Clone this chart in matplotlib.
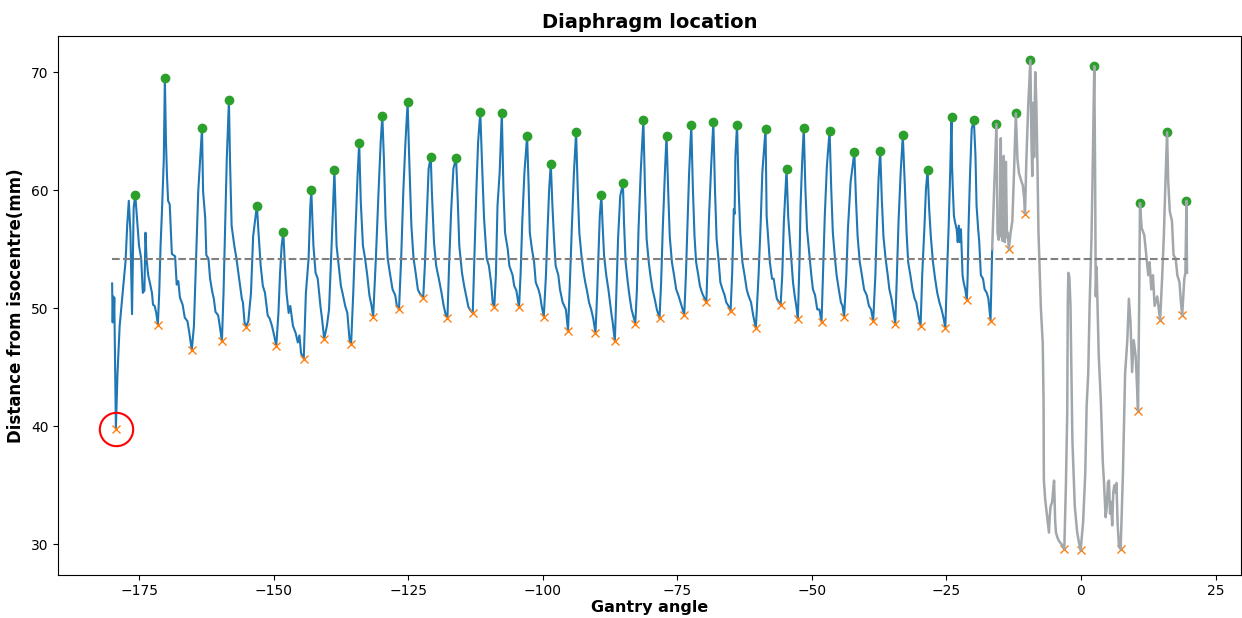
import matplotlib
matplotlib.use("Agg")
import matplotlib.pyplot as plt

# diaphragm trace (blue part), gantry angle vs distance from isocentre
angle = [-180.0, -179.9, -179.8, -179.7, -179.6, -179.45, -179.3,
         -179.0, -178.6, -178.0, -177.5, -177.2, -176.9, -176.6, -176.3, -176.0, -175.7,
         -175.4, -175.0, -174.6, -174.3, -174.0, -173.8, -173.6, -173.3, -173.0, -172.6, -172.4, -172.1, -171.8, -171.5,
         -171.25, -171.0, -170.75, -170.4, -170.2, -170.0, -169.8, -169.6, -169.3, -168.9, -168.3, -168.0, -167.7, -167.4, -166.9, -166.5, -166.0, -165.7, -165.2,
         -164.8, -164.4, -164.0, -163.3, -163.1, -162.7, -162.5, -162.1, -161.8, -161.4, -161.1, -160.8, -160.3, -160.0, -159.6,
         -159.3, -159.0, -158.7, -158.3, -158.1, -157.8, -157.3, -156.9, -156.4, -155.9, -155.7, -155.4, -155.1,
         -154.7, -154.2, -153.8, -153.1, -152.8, -152.4, -152.0, -151.6, -151.1, -150.7, -150.3, -149.9, -149.5,
         -149.1, -148.8, -148.5, -148.2, -147.9, -147.6, -147.2, -146.9, -146.4, -145.9, -145.5, -145.2, -144.9, -144.4,
         -144.0, -143.5, -143.2, -143.0, -142.6, -142.2, -141.8, -141.3, -141.0, -140.6,
         -140.1, -139.7, -139.2, -138.7, -138.3, -137.9, -137.5, -137.2, -136.7, -136.3, -135.9, -135.6,
         -135.2, -134.8, -134.4, -134.1, -133.8, -133.4, -133.0, -132.6, -132.2, -131.8, -131.5,
         -131.0, -130.5, -130.1, -129.8, -129.5, -129.2, -128.8, -128.4, -127.9, -127.4, -127.1, -126.7,
         -126.3, -125.9, -125.5, -125.1, -124.8, -124.4, -124.0, -123.7, -123.2, -122.9, -122.6, -122.2,
         -121.9, -121.5, -121.2, -120.8, -120.6, -120.2, -119.8, -119.3, -118.8, -118.4, -118.0, -117.7,
         -117.4, -117.0, -116.6, -116.1, -115.8, -115.5, -115.0, -114.6, -114.1, -113.8, -113.4, -113.0,
         -112.7, -112.3, -112.0, -111.6, -111.3, -110.9, -110.4, -110.0, -109.6, -109.3, -109.0,
         -108.7, -108.4, -108.0, -107.6, -107.3, -107.0, -106.5, -106.2, -105.9, -105.6, -105.3, -104.9, -104.4,
         -104.1, -103.8, -103.4, -102.9, -102.6, -102.4, -102.0, -101.6, -101.3, -100.8, -100.5, -100.2, -99.8,
         -99.4, -99.1, -98.8, -98.5, -98.2, -97.9, -97.6, -97.1, -96.8, -96.3, -96.0, -95.7, -95.3,
         -95.0, -94.6, -94.2, -93.8, -93.5, -93.2, -92.8, -92.4, -92.1, -91.7, -91.4, -91.0, -90.6, -90.2,
         -89.9, -89.6, -89.4, -89.1, -88.9, -88.6, -88.2, -87.8, -87.5, -87.2, -87.0, -86.6,
         -86.3, -86.0, -85.6, -85.1, -84.9, -84.6, -84.2, -83.9, -83.5, -83.2, -82.8,
         -82.5, -82.2, -81.8, -81.3, -81.0, -80.7, -80.3, -80.0, -79.6, -79.2, -78.8, -78.3,
         -78.0, -77.7, -77.3, -77.0, -76.7, -76.4, -76.0, -75.6, -75.2, -74.8, -74.4, -74.0, -73.7,
         -73.4, -73.1, -72.8, -72.4, -72.1, -71.8, -71.5, -71.1, -70.8, -70.4, -70.0, -69.6,
         -69.4, -69.1, -68.7, -68.3, -68.0, -67.7, -67.3, -67.0, -66.6, -66.2, -65.9, -65.5, -65.1,
         -64.8, -64.5, -64.35, -64.2, -63.9, -63.6, -63.3, -62.9, -62.5, -62.1, -61.8, -61.3, -60.9, -60.4,
         -59.9, -59.5, -59.2, -58.6, -58.4, -58.1, -57.8, -57.4, -57.1, -56.8, -56.5, -56.1, -55.8,
         -55.5, -55.2, -54.9, -54.7, -54.4, -54.1, -53.8, -53.5, -53.2, -52.9, -52.6,
         -52.3, -52.1, -51.8, -51.5, -51.2, -50.9, -50.5, -50.1, -49.8, -49.4, -49.0, -48.6, -48.2,
         -47.9, -47.6, -47.2, -46.7, -46.4, -46.1, -45.7, -45.4, -45.0, -44.6, -44.3, -44.0,
         -43.6, -43.3, -42.8, -42.1, -41.8, -41.5, -41.1, -40.7, -40.3, -39.8, -39.4, -39.0, -38.6,
         -38.2, -37.9, -37.6, -37.3, -37.0, -36.7, -36.3, -35.9, -35.6, -35.2, -34.9, -34.5,
         -34.2, -33.9, -33.5, -33.1, -32.7, -32.4, -32.1, -31.7, -31.3, -30.9, -30.6, -30.2, -29.8,
         -29.5, -29.1, -28.8, -28.5, -28.2, -27.9, -27.5, -27.1, -26.7, -26.3, -25.9, -25.5, -25.2,
         -24.9, -24.6, -24.3, -24.05, -23.95, -23.8, -23.6, -23.4, -23.1, -22.9, -22.7, -22.5, -22.3, -22.0, -21.8, -21.5, -21.2,
         -21.05, -20.9, -20.6, -20.3, -19.9, -19.6, -19.4, -19.1, -18.9, -18.6, -18.2, -17.9, -17.5, -17.2, -16.8, -16.5]
distance = [52.1, 48.8, 51.0, 49.2, 50.9, 45.5, 39.8,
            44.5, 48.5, 51.5, 54.0, 57.0, 59.1, 56.5, 49.5, 58.5, 59.6,
            57.8, 55.3, 54.2, 51.3, 51.5, 56.4, 54.2, 52.8, 52.2, 51.3, 50.3, 50.2, 49.6, 48.6,
            51.3, 55.3, 58.1, 62.6, 69.5, 64.2, 61.1, 59.1, 58.8, 54.6, 54.4, 52.0, 52.3, 50.9, 50.3, 49.2, 48.9, 48.05, 46.45,
            48.5, 54.2, 59.9, 65.25, 59.9, 57.6, 54.5, 54.2, 52.5, 51.4, 50.8, 49.7, 49.4, 48.5, 47.2,
            51.3, 57.0, 62.6, 67.6, 62.6, 57.0, 55.3, 54.2, 52.5, 50.8, 50.5, 48.8, 48.45,
            48.9, 51.3, 56.1, 58.7, 56.4, 53.6, 51.9, 51.3, 49.4, 49.1, 48.5, 47.7, 46.8,
            49.6, 53.0, 55.3, 56.5, 53.6, 51.3, 49.6, 50.2, 48.5, 47.9, 47.1, 47.7, 46.2, 45.7,
            51.3, 54.2, 58.4, 60.0, 55.3, 53.0, 52.5, 50.2, 49.1, 47.4,
            48.5, 49.9, 55.6, 61.7, 55.3, 53.6, 51.9, 51.3, 50.2, 49.6, 47.4, 46.95,
            51.3, 56.4, 61.2, 64.0, 59.0, 55.3, 54.2, 52.8, 51.1, 50.2, 49.3,
            54.2, 59.9, 64.1, 66.3, 62.6, 57.6, 54.2, 53.0, 51.6, 51.1, 50.2, 49.9,
            54.2, 59.9, 64.1, 67.45, 62.6, 57.0, 54.2, 53.3, 51.6, 51.3, 51.1, 50.9,
            53.6, 58.4, 61.8, 62.85, 59.9, 55.6, 53.6, 52.5, 51.3, 50.2, 49.4, 49.2,
            53.6, 58.4, 61.8, 62.76, 59.3, 55.3, 53.0, 51.9, 50.8, 50.1, 49.8, 49.6,
            54.2, 60.4, 64.1, 66.6, 62.6, 57.6, 54.2, 53.6, 52.2, 50.5, 50.1,
            52.8, 58.7, 61.5, 66.55, 60.1, 56.4, 55.0, 53.6, 53.2, 52.8, 51.9, 51.5, 50.07,
            53.0, 57.3, 61.5, 64.6, 60.1, 56.4, 55.0, 53.9, 52.2, 51.6, 51.1, 50.2, 49.3,
            52.8, 56.7, 60.1, 62.25, 58.7, 55.9, 53.6, 52.8, 51.6, 50.5, 50.2, 49.9, 48.1,
            51.6, 56.7, 61.5, 64.9, 60.1, 56.4, 54.45, 53.0, 52.2, 51.3, 50.5, 49.9, 49.1, 47.9,
            51.1, 55.0, 57.8, 59.6, 57.3, 54.45, 52.8, 51.6, 50.5, 49.4, 48.8, 47.2,
            51.6, 55.9, 59.5, 60.6, 57.3, 53.9, 52.2, 51.1, 49.9, 49.4, 48.7,
            51.6, 56.7, 61.5, 65.95, 60.1, 55.9, 53.9, 52.8, 51.6, 50.8, 49.9, 49.15,
            52.2, 56.7, 61.5, 64.6, 60.1, 56.1, 53.9, 52.8, 51.6, 51.1, 50.5, 49.9, 49.45,
            52.8, 57.3, 61.5, 65.5, 60.1, 56.1, 53.9, 52.8, 51.9, 51.3, 50.9, 50.5,
            53.3, 57.8, 62.1, 65.8, 60.1, 55.9, 53.9, 52.2, 51.6, 51.1, 50.5, 50.2, 49.75,
            53.0, 58.4, 58.0, 62.9, 65.55, 60.1, 56.4, 53.9, 52.8, 51.6, 51.1, 50.5, 49.4, 48.3,
            52.8, 57.3, 61.5, 65.2, 57.8, 55.9, 53.9, 52.5, 52.5, 51.6, 50.8, 50.5, 50.3,
            52.8, 57.3, 60.1, 61.8, 57.8, 55.9, 53.9, 52.2, 51.1, 50.2, 49.1,
            53.9, 58.7, 62.4, 65.3, 60.1, 56.7, 54.7, 52.8, 51.6, 51.1, 49.9, 49.9, 48.85,
            53.3, 57.8, 62.1, 65.05, 60.1, 56.4, 54.2, 52.8, 51.6, 50.5, 50.2, 49.25,
            52.8, 56.7, 60.7, 63.2, 59.2, 56.1, 53.9, 52.8, 51.6, 51.1, 50.2, 49.9, 48.9,
            52.8, 57.3, 61.0, 63.35, 59.2, 56.1, 54.2, 52.8, 51.6, 50.8, 49.9, 48.7,
            52.8, 57.3, 61.5, 64.65, 60.1, 56.4, 53.9, 52.8, 51.6, 50.8, 50.5, 49.4, 48.5,
            52.8, 56.7, 60.1, 61.7, 58.4, 56.1, 53.9, 52.5, 51.3, 50.5, 49.9, 49.1, 48.3,
            52.8, 56.7, 61.5, 66.2, 62.1, 60.0, 57.8, 57.3, 56.7, 55.6, 57.0, 55.6, 56.7, 52.8, 52.2, 51.6, 50.7,
            52.8, 56.7, 61.5, 65.2, 65.95, 62.9, 58.7, 56.7, 55.6, 52.8, 52.5, 51.6, 51.3, 50.8, 48.95, 55.0]

# part of the trace drawn in grey (irregular breathing)
angle_grey = [-16.5, -16.1, -15.7, -15.5, -15.3, -15.1, -14.9, -14.75, -14.55, -14.35, -14.15, -13.95, -13.75, -13.6, -13.4,
              -13.1, -12.75, -12.45, -12.1, -11.8, -11.5, -11.1, -10.8, -10.55, -10.4,
              -10.15, -9.8, -9.4, -9.2, -9.05, -8.9, -8.7, -8.5, -8.3, -8.1, -7.9, -7.65, -7.45, -7.1, -6.95, -6.9,
              -6.65, -6.25, -5.95, -5.8, -5.65, -5.35, -5.0, -4.8, -4.65, -4.4, -4.1, -3.6, -3.1,
              -2.8, -2.55, -2.45, -2.35, -2.15, -1.95, -1.75, -1.6, -1.15, -0.7, -0.35, -0.06,
              0.4, 0.8, 1.05, 1.35, 1.6, 1.95, 2.2, 2.47, 2.62, 2.75, 2.9, 3.05, 3.3, 3.7, 4.05, 4.27, 4.58,
              4.8, 5.0, 5.2, 5.4, 5.6, 5.8, 6.0, 6.2, 6.4, 6.6, 6.8, 7.06, 7.37,
              7.8, 8.2, 8.6, 8.9, 9.2, 9.5, 9.8, 10.15, 10.3, 10.6,
              10.8, 10.96, 11.27, 11.76, 12.13, 12.5, 12.75, 13.06, 13.37, 13.68, 14.17, 14.7,
              15.1, 15.4, 15.7, 16.0, 16.2, 16.5, 16.9, 17.2, 17.6, 17.9, 18.3, 18.57, 18.8,
              19.2, 19.4, 19.6, 19.7]
distance_grey = [55.0, 60.5, 65.6, 56.4, 55.8, 56.2, 64.4, 56.3, 55.7, 62.9, 55.6, 62.4, 56.0, 56.4, 55.0,
                 56.3, 57.4, 61.4, 66.5, 62.6, 61.4, 60.8, 60.4, 59.3, 58.0,
                 62.5, 67.2, 71.0, 64.2, 61.2, 67.4, 62.8, 70.0, 67.5, 62.5, 56.5, 53.0, 50.0, 47.0, 42.0, 35.5,
                 33.8, 32.2, 31.0, 32.4, 33.2, 33.6, 35.4, 32.0, 31.0, 30.6, 30.3, 30.0, 29.6,
                 35.0, 41.2, 50.5, 53.0, 52.6, 50.2, 44.0, 38.9, 33.2, 31.0, 30.1, 29.5,
                 31.9, 36.1, 41.7, 44.5, 50.2, 55.9, 62.5, 70.5, 62.0, 51.0, 53.5, 50.8, 46.0, 42.0, 37.0, 35.3, 32.3,
                 33.2, 35.2, 35.4, 32.6, 33.6, 31.6, 34.4, 35.0, 34.4, 35.2, 31.8, 29.8, 29.6,
                 36.1, 44.5, 47.2, 50.8, 48.8, 44.6, 47.3, 46.0, 44.6, 41.3,
                 50.0, 58.9, 56.8, 56.2, 54.5, 52.8, 53.9, 51.6, 52.8, 50.2, 51.0, 49.0,
                 52.8, 56.2, 60.8, 64.9, 60.8, 58.2, 57.4, 54.5, 54.2, 52.8, 52.2, 50.5, 49.4,
                 52.5, 53.0, 59.1, 53.0]

# detected peaks (end of inhale)
peak_angle = [-175.7, -170.2, -163.3, -158.3, -153.1, -148.2, -143.0, -138.7, -134.1, -129.8, -125.1, -120.8,
              -116.1, -111.6, -107.6, -102.9, -98.5, -93.8, -89.1, -85.1, -81.3, -77.0, -72.4, -68.3,
              -63.9, -58.6, -54.7, -51.5, -46.7, -42.1, -37.3, -33.1, -28.5, -24.05, -19.9,
              -15.7, -12.1, -9.4, 2.47, 10.96, 16.0, 19.6]
peak_dist = [59.6, 69.5, 65.25, 67.6, 58.7, 56.5, 60.0, 61.7, 64.0, 66.3, 67.45, 62.85,
             62.76, 66.6, 66.55, 64.6, 62.25, 64.9, 59.6, 60.6, 65.95, 64.6, 65.5, 65.8,
             65.55, 65.2, 61.8, 65.3, 65.05, 63.2, 63.35, 64.65, 61.7, 66.2, 65.95,
             65.6, 66.5, 71.0, 70.5, 58.9, 64.9, 59.1]

# detected troughs (end of exhale)
trough_angle = [-179.3, -171.5, -165.2, -159.6, -155.1, -149.5, -144.4, -140.6, -135.6, -131.5, -126.7, -122.2,
                -117.7, -113.0, -109.0, -104.4, -99.8, -95.3, -90.2, -86.6, -82.8, -78.3, -73.7, -69.6,
                -65.1, -60.4, -55.8, -52.6, -48.2, -44.0, -38.6, -34.5, -29.8, -25.2, -21.2, -16.8,
                -13.4, -10.4, -3.1, -0.06, 7.37, 10.6, 14.7, 18.8]
trough_dist = [39.8, 48.6, 46.45, 47.2, 48.45, 46.8, 45.7, 47.4, 46.95, 49.3, 49.9, 50.9,
               49.2, 49.6, 50.1, 50.07, 49.3, 48.1, 47.9, 47.2, 48.7, 49.15, 49.45, 50.5,
               49.75, 48.3, 50.3, 49.1, 48.85, 49.25, 48.9, 48.7, 48.5, 48.3, 50.7, 48.95,
               55.0, 58.0, 29.6, 29.5, 29.6, 41.3, 49.0, 49.4]

mean_level = 54.2
flagged_angle = -179.3
flagged_dist = 39.8

fig = plt.figure(figsize=(12.42, 6.18), dpi=100)
ax = fig.add_subplot(111)
fig.subplots_adjust(left=0.047, right=0.999, bottom=0.070, top=0.942)

ax.plot(angle, distance, color="#1f77b4", lw=1.5)
ax.plot(trough_angle, trough_dist, "x", color="#ff7f0e")
ax.plot(peak_angle, peak_dist, "o", color="#2ca02c")
ax.plot(angle_grey, distance_grey, color="#a2a7ac", lw=1.8)
ax.plot([angle[0], angle_grey[-1]], [mean_level, mean_level], "--", color="grey", lw=1.5)
ax.plot(flagged_angle, flagged_dist, "o", mfc="none", mec="red", ms=24, mew=1.5)

ax.set_title("Diaphragm location", fontsize=14, fontweight="bold")
ax.set_xlabel("Gantry angle", fontsize=11.5, fontweight="bold", labelpad=1)
ax.set_ylabel("Distance from isocentre(mm)", fontsize=12, fontweight="bold")

fig.savefig("out.png", dpi=100)
